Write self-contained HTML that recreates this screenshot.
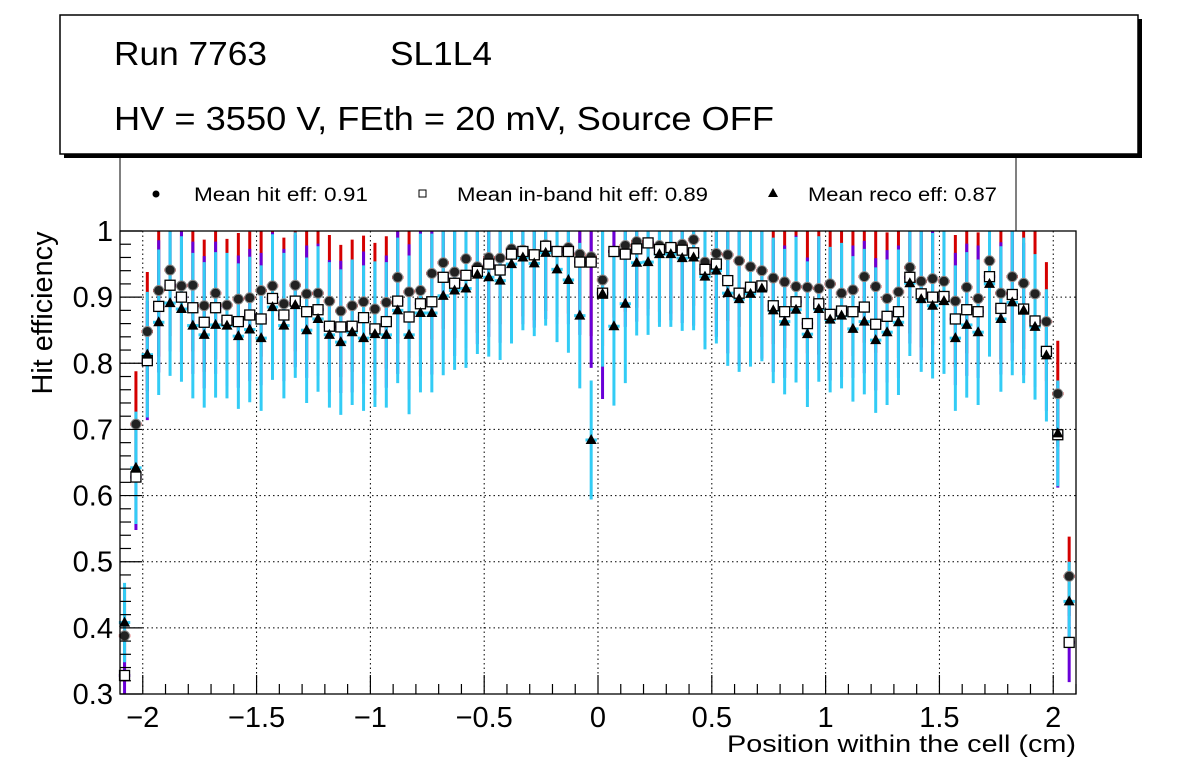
<!DOCTYPE html>
<html><head><meta charset="utf-8"><style>
html,body{margin:0;padding:0;background:#fff}
svg text{font-family:"Liberation Sans",sans-serif}
</style></head><body>
<svg id="c" width="1196" height="772" viewBox="0 0 1196 772" xmlns="http://www.w3.org/2000/svg">
<rect width="1196" height="772" fill="#fff"/>
<g>
<rect x="64" y="19" width="1078" height="139" fill="#000"/>
<rect x="60" y="15" width="1078" height="139" fill="#fff" stroke="#000" stroke-width="1.5"/>
<text x="114" y="65" font-size="33" textLength="153" lengthAdjust="spacingAndGlyphs">Run 7763</text>
<text x="390" y="65" font-size="33" textLength="102" lengthAdjust="spacingAndGlyphs">SL1L4</text>
<text x="114" y="130" font-size="33" textLength="660" lengthAdjust="spacingAndGlyphs">HV = 3550 V, FEth = 20 mV, Source OFF</text>
</g>
<g>
<rect x="120" y="158" width="896" height="73" fill="#fff"/>
<line x1="120" y1="158" x2="120" y2="231" stroke="#000"/>
<line x1="1016" y1="158" x2="1016" y2="231" stroke="#000"/>
<circle cx="156" cy="194" r="3.5" fill="#000"/>
<text x="194" y="201" font-size="19" textLength="174" lengthAdjust="spacingAndGlyphs">Mean hit  eff: 0.91</text>
<rect x="419" y="190" width="7" height="7" fill="#fff" stroke="#000"/>
<text x="457" y="201" font-size="19" textLength="251" lengthAdjust="spacingAndGlyphs">Mean in-band hit eff: 0.89</text>
<polygon points="773,188 778,197 768,197" fill="#000"/>
<text x="808" y="201" font-size="19" textLength="189" lengthAdjust="spacingAndGlyphs">Mean reco eff: 0.87</text>
</g>
<g id="grid"></g>
<g id="marks"></g>
<g id="axes"></g>
<text transform="translate(52,313) rotate(-90)" text-anchor="middle" font-size="29" textLength="163" lengthAdjust="spacingAndGlyphs">Hit efficiency</text>
<text x="1076" y="752" text-anchor="end" font-size="24" textLength="349" lengthAdjust="spacingAndGlyphs">Position within the cell (cm)</text>
</svg>
<script>
const hitEff = [0.388,0.708,0.848,0.910,0.941,0.917,0.918,0.887,0.906,0.888,0.897,0.899,0.910,0.917,0.890,0.918,0.905,0.906,0.894,0.879,0.887,0.893,0.882,0.892,0.930,0.908,0.910,0.936,0.952,0.938,0.958,0.946,0.960,0.959,0.973,0.971,0.965,0.979,0.970,0.975,0.965,0.961,0.926,0.969,0.978,0.984,0.982,0.978,0.975,0.980,0.987,0.953,0.966,0.964,0.955,0.946,0.940,0.929,0.923,0.916,0.915,0.913,0.920,0.906,0.911,0.931,0.916,0.898,0.908,0.945,0.924,0.928,0.924,0.894,0.915,0.898,0.955,0.906,0.931,0.921,0.905,0.863,0.754,0.478];
const inbandEff = [0.328,0.628,0.804,0.886,0.918,0.900,0.884,0.862,0.884,0.865,0.863,0.873,0.867,0.898,0.873,0.894,0.878,0.881,0.856,0.855,0.856,0.869,0.852,0.863,0.894,0.870,0.890,0.893,0.930,0.921,0.933,0.939,0.950,0.941,0.965,0.969,0.964,0.977,0.969,0.969,0.953,0.953,0.906,0.969,0.965,0.973,0.982,0.972,0.975,0.971,0.967,0.942,0.950,0.925,0.906,0.915,0.917,0.887,0.878,0.893,0.860,0.890,0.874,0.879,0.878,0.885,0.859,0.871,0.878,0.930,0.905,0.900,0.901,0.867,0.881,0.878,0.931,0.883,0.904,0.882,0.864,0.818,0.692,0.378];
const recoEff = [0.408,0.642,0.813,0.862,0.891,0.882,0.857,0.843,0.858,0.857,0.841,0.851,0.838,0.885,0.857,0.888,0.850,0.867,0.843,0.832,0.847,0.838,0.844,0.843,0.880,0.843,0.876,0.876,0.902,0.910,0.913,0.934,0.930,0.925,0.950,0.960,0.951,0.967,0.942,0.926,0.872,0.684,0.905,0.856,0.890,0.952,0.953,0.965,0.965,0.959,0.960,0.931,0.940,0.906,0.897,0.905,0.913,0.880,0.863,0.881,0.844,0.882,0.866,0.872,0.852,0.863,0.835,0.847,0.862,0.921,0.897,0.887,0.894,0.838,0.858,0.847,0.920,0.867,0.892,0.880,0.855,0.812,0.694,0.440];
const hitErr = [0.07,0.08,0.09,0.10,0.10,0.10,0.10,0.10,0.10,0.10,0.10,0.10,0.10,0.10,0.10,0.10,0.10,0.10,0.10,0.10,0.10,0.10,0.10,0.10,0.10,0.10,0.10,0.10,0.10,0.10,0.10,0.10,0.10,0.10,0.10,0.10,0.10,0.10,0.10,0.10,0.10,0.12,0.10,0.10,0.10,0.10,0.10,0.10,0.10,0.10,0.10,0.10,0.10,0.10,0.10,0.10,0.10,0.10,0.10,0.10,0.10,0.10,0.10,0.10,0.10,0.10,0.10,0.10,0.10,0.10,0.10,0.10,0.10,0.10,0.10,0.10,0.10,0.10,0.10,0.10,0.10,0.09,0.08,0.06];
const inbandErr = [0.07,0.08,0.09,0.10,0.10,0.10,0.10,0.10,0.10,0.10,0.10,0.10,0.10,0.10,0.10,0.10,0.10,0.10,0.10,0.10,0.10,0.10,0.10,0.10,0.11,0.11,0.11,0.11,0.11,0.11,0.11,0.11,0.11,0.11,0.11,0.11,0.11,0.11,0.11,0.11,0.11,0.16,0.16,0.11,0.11,0.11,0.11,0.11,0.11,0.11,0.11,0.11,0.11,0.11,0.11,0.11,0.11,0.10,0.10,0.10,0.10,0.10,0.10,0.10,0.10,0.10,0.10,0.10,0.10,0.10,0.10,0.10,0.10,0.10,0.10,0.10,0.10,0.10,0.10,0.10,0.10,0.09,0.08,0.06];
const recoErr = [0.06,0.085,0.095,0.11,0.11,0.11,0.11,0.11,0.11,0.11,0.11,0.11,0.11,0.11,0.11,0.11,0.11,0.11,0.11,0.11,0.11,0.11,0.11,0.11,0.11,0.12,0.12,0.12,0.12,0.12,0.12,0.12,0.12,0.12,0.12,0.11,0.11,0.11,0.11,0.11,0.11,0.09,0.11,0.12,0.12,0.11,0.11,0.11,0.11,0.11,0.11,0.11,0.11,0.11,0.11,0.11,0.11,0.11,0.11,0.11,0.11,0.11,0.11,0.11,0.11,0.11,0.11,0.11,0.11,0.11,0.11,0.11,0.11,0.11,0.11,0.11,0.11,0.11,0.11,0.11,0.11,0.10,0.08,0.06];
const xTicks = [-2,-1.5,-1,-0.5,0,0.5,1,1.5,2];
const xTickLabels = ["\u22122","\u22121.5","\u22121","\u22120.5","0","0.5","1","1.5","2"];
const yTicks = [0.3,0.4,0.5,0.6,0.7,0.8,0.9,1];
const yTickLabels = ["0.3","0.4","0.5","0.6","0.7","0.8","0.9","1"];
const binFirst = -2.08, binWidth = 0.05;

const X0=120,X1=1076,Y0=694,Y1=231,xmin=-2.1,xmax=2.1,ymin=0.3,ymax=1.0;
const sx=v=>X0+(v-xmin)/(xmax-xmin)*(X1-X0);
const sy=v=>Y0-(v-ymin)/(ymax-ymin)*(Y0-Y1);
const cy=v=>Math.max(Y1,Math.min(Y0,sy(v)));
const NS="http://www.w3.org/2000/svg";
function mk(tag,attrs,parent){const e=document.createElementNS(NS,tag);for(const k in attrs)e.setAttribute(k,attrs[k]);parent.appendChild(e);return e;}
const grid=document.getElementById('grid'),marks=document.getElementById('marks'),axes=document.getElementById('axes');
mk('rect',{x:X0,y:Y1,width:X1-X0,height:Y0-Y1,fill:'#fff'},grid);
xTicks.forEach(t=>{const l=mk('line',{x1:sx(t),x2:sx(t),y1:Y1,y2:Y0,stroke:'#000','stroke-dasharray':'1.5,3','stroke-width':1},grid);

});
yTicks.forEach(t=>{const l=mk('line',{x1:X0,x2:X1,y1:sy(t),y2:sy(t),stroke:'#000','stroke-dasharray':'1.5,3','stroke-width':1},grid);

});
const n=hitEff.length;
const xs=[];for(let i=0;i<n;i++)xs.push(binFirst+i*binWidth);
const hw=(sx(binWidth)-sx(0))/2;
function errbar(x,v,e,col,w,name){
 const g=mk('g',{},marks);
 
 
 mk('line',{x1:x,x2:x,y1:cy(v-e),y2:cy(v+e),stroke:col,'stroke-width':w},g);
 mk('line',{x1:x-hw,x2:x+hw,y1:sy(v),y2:sy(v),stroke:col,'stroke-width':3},g);
}
for(let i=0;i<n;i++)errbar(sx(xs[i]),hitEff[i],hitErr[i],'#d40000',3,'hit-error-bar');
for(let i=0;i<n;i++)errbar(sx(xs[i]),inbandEff[i],inbandErr[i],'#6a00d8',3,'inband-error-bar');
for(let i=0;i<n;i++)errbar(sx(xs[i]),recoEff[i],recoErr[i],'#33ccf5',3,'reco-error-bar');
for(let i=0;i<n;i++){const x=sx(xs[i]);
 const c=mk('circle',{cx:x,cy:sy(hitEff[i]),r:5,fill:'#222',stroke:'#888','stroke-width':1},marks);
 
 
 const s=mk('rect',{x:x-5,y:sy(inbandEff[i])-5,width:10,height:10,fill:'#fff',stroke:'#000','stroke-width':1.3},marks);
 
 
 const y=sy(recoEff[i]);
 const t=mk('polygon',{points:`${x},${y-6} ${x+5.5},${y+4} ${x-5.5},${y+4}`,fill:'#000'},marks);
 
 
}
const fr=mk('rect',{x:X0,y:Y1,width:X1-X0,height:Y0-Y1,fill:'none',stroke:'#000','stroke-width':1.3},axes);


for(let v=-2.0;v<=2.1001;v+=0.1){const major=Math.abs(v*2-Math.round(v*2))<1e-6;const len=major?19:10;
 mk('line',{x1:sx(v),x2:sx(v),y1:Y0,y2:Y0-len,stroke:'#000','stroke-width':1.2},axes);}
for(let v=0.3;v<=1.0001;v+=0.02){const major=Math.abs(v*10-Math.round(v*10))<1e-6;const len=major?22:11;
 mk('line',{x1:X0,x2:X0+len,y1:sy(v),y2:sy(v),stroke:'#000','stroke-width':1.2},axes);}
xTicks.forEach((t,i)=>{const tx=mk('text',{x:sx(t),y:727,'text-anchor':'middle','font-size':29},axes);tx.textContent=xTickLabels[i];
 
 });
yTicks.forEach((t,i)=>{const tx=mk('text',{x:113,y:sy(t)+10,'text-anchor':'end','font-size':29},axes);tx.textContent=yTickLabels[i];
 
 });
</script>
</body></html>
